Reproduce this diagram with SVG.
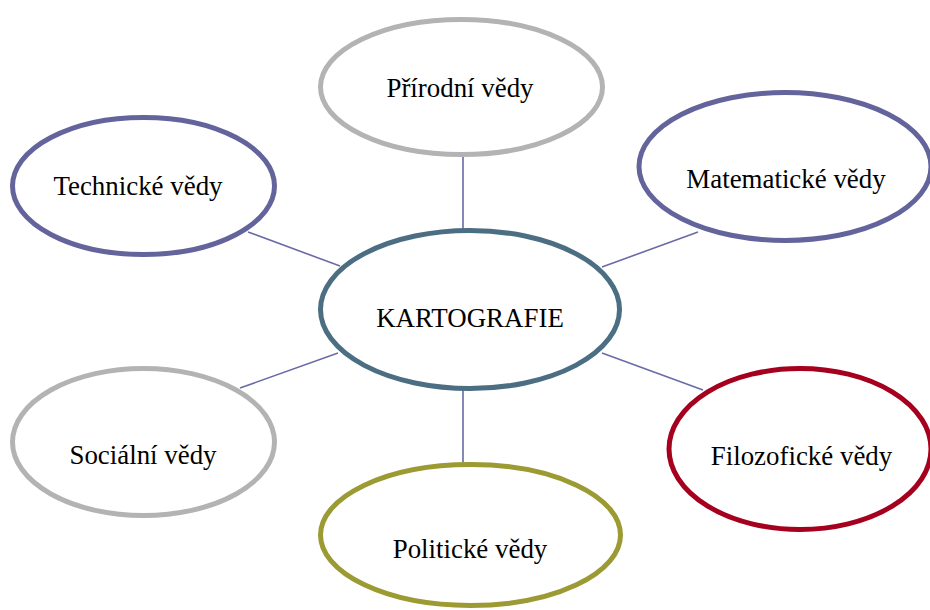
<svg xmlns="http://www.w3.org/2000/svg" width="930" height="610" viewBox="0 0 930 610">
<style>
  .node { fill: #ffffff; stroke-width: 5; }
  .gray { stroke: #b3b3b3; }
  .purple { stroke: #64649c; }
  .slate { stroke: #4b6e83; }
  .red { stroke: #a6001f; }
  .olive { stroke: #9c9a33; }
  .conn line { stroke: #6a6aa6; stroke-width: 1.6; }
  text { font-family: "Liberation Serif", "Times New Roman", serif; font-size: 26.9px; fill: #000; text-anchor: middle; }
</style>
<rect width="930" height="610" fill="#ffffff"/>
<g id="connectors" class="conn">
  <line x1="463" y1="157" x2="463" y2="229"/>
  <line x1="248" y1="232" x2="340" y2="266"/>
  <line x1="698" y1="232" x2="602" y2="267"/>
  <line x1="240" y1="388" x2="338" y2="353"/>
  <line x1="703" y1="390" x2="602" y2="353"/>
  <line x1="463" y1="390" x2="463" y2="463"/>
</g>
<g id="prirodni">
  <ellipse class="node gray" cx="461.5" cy="87" rx="141" ry="67.5"/>
  <text x="460" y="97">Přírodní vědy</text>
</g>
<g id="technicke">
  <ellipse class="node purple" cx="143.5" cy="186" rx="131" ry="68.5"/>
  <text x="138" y="195">Technické vědy</text>
</g>
<g id="matematicke">
  <ellipse class="node purple" cx="785" cy="166.5" rx="146" ry="74"/>
  <text x="786" y="188">Matematické vědy</text>
</g>
<g id="kartografie">
  <ellipse class="node slate" cx="470" cy="309.5" rx="149.5" ry="79"/>
  <text x="470" y="327">KARTOGRAFIE</text>
</g>
<g id="socialni">
  <ellipse class="node gray" cx="143.5" cy="442" rx="131" ry="73.5"/>
  <text x="143" y="464">Sociální vědy</text>
</g>
<g id="filozoficke">
  <ellipse class="node red" cx="800" cy="449" rx="131" ry="80.5"/>
  <text x="801.5" y="465">Filozofické vědy</text>
</g>
<g id="politicke">
  <ellipse class="node olive" cx="470.5" cy="535" rx="150" ry="70.5"/>
  <text x="470" y="558">Politické vědy</text>
</g>
</svg>
